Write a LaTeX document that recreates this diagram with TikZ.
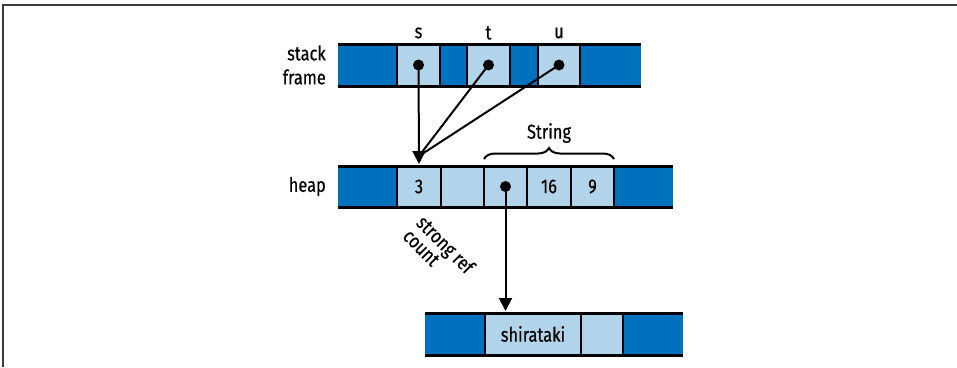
\documentclass[tikz,border=0pt]{standalone}
\usepackage{fontspec}
\setmainfont{Fira Sans}[FakeStretch=0.82,FakeBold=0.4]
\usetikzlibrary{arrows.meta,decorations.pathreplacing}
\definecolor{dkblue}{RGB}{0,113,188}
\definecolor{ltblue}{RGB}{178,212,234}
\definecolor{framegray}{RGB}{60,60,60}
\tikzset{
  cellbox/.style={rectangle, inner sep=0pt, outer sep=0pt, draw=none, minimum height=42pt, anchor=west},
  dk/.style={cellbox, fill=dkblue},
  lt/.style={cellbox, fill=ltblue},
  rowline/.style={line width=3pt, black},
  divline/.style={line width=2pt, black},
  ptr/.style={line width=2pt, black},
  ptrarrow/.style={line width=2pt, black, -{Triangle[length=13pt,width=13pt]}},
  dot/.style={circle, fill=black, inner sep=0pt, minimum size=11pt},
  lbl/.style={font=\fontsize{20}{22}\selectfont, inner sep=0pt},
}
\begin{document}
\begin{tikzpicture}[x=1pt,y=1pt]
\useasboundingbox (0,0) rectangle (957,-367);
% frame
\draw[framegray, line width=1.5pt] (3,-367) -- (3,-5) -- (957,-5);

% stack frame row
\node[dk, minimum width=59pt] (sd1) at (338,-65) {};
\node[lt, minimum width=43pt] (s) at (397,-65) {};
\node[dk, minimum width=27pt] (sd2) at (440,-65) {};
\node[lt, minimum width=43pt] (t) at (467,-65) {};
\node[dk, minimum width=28pt] (sd3) at (510,-65) {};
\node[lt, minimum width=42pt] (u) at (538,-65) {};
\node[dk, minimum width=61pt] (sd4) at (580,-65) {};
\draw[rowline] (sd1.north west) -- (sd4.north east);
\draw[rowline] (sd1.south west) -- (sd4.south east);
\foreach \c in {s,sd2,t,sd3,u,sd4} \draw[divline] (\c.north west) -- (\c.south west);

% heap row
\node[dk, minimum width=59pt, minimum height=41pt] (hd1) at (338,-186.5) {};
\node[lt, minimum width=44pt, minimum height=41pt] (h3) at (397,-186.5) {};
\node[lt, minimum width=43pt, minimum height=41pt] (hb) at (441,-186.5) {};
\node[lt, minimum width=43pt, minimum height=41pt] (hp) at (484,-186.5) {};
\node[lt, minimum width=44pt, minimum height=41pt] (h16) at (527,-186.5) {};
\node[lt, minimum width=43pt, minimum height=41pt] (h9) at (571,-186.5) {};
\node[dk, minimum width=59pt, minimum height=41pt] (hd2) at (614,-186.5) {};
\draw[rowline] (hd1.north west) -- (hd2.north east);
\draw[rowline] (hd1.south west) -- (hd2.south east);
\foreach \c in {h3,hb,hp,h16,h9,hd2} \draw[divline] (\c.north west) -- (\c.south west);

% bottom row
\node[dk, minimum width=60pt] (bd1) at (425,-334) {};
\node[lt, minimum width=96pt] (bs) at (485,-334) {};
\node[lt, minimum width=42pt] (bb) at (581,-334) {};
\node[dk, minimum width=60pt] (bd2) at (623,-334) {};
\draw[rowline] (bd1.north west) -- (bd2.north east);
\draw[rowline] (bd1.south west) -- (bd2.south east);
\foreach \c in {bs,bb,bd2} \draw[divline] (\c.north west) -- (\c.south west);

% cell texts
\node[lbl] (t3) at (h3.center) {3};
\node[lbl] (t16) at (h16.center) {16};
\node[lbl] (t9) at (h9.center) {9};
\node[lbl] (tshir) at (bs.center) {shirataki};

% labels
\node[lbl, align=right, anchor=east, font=\fontsize{20}{24}\selectfont] (lstack) at (326,-65) {stack\\frame};
\node[lbl, anchor=east] (lheap) at (326,-186.5) {heap};
\node[lbl] (ls) at ([yshift=32pt]s.center) {s};
\node[lbl] (lt) at ([yshift=32pt]t.center) {t};
\node[lbl] (lu) at ([yshift=32pt]u.center) {u};
\node[lbl] (lstring) at (549,-133) {String};
\node[lbl, rotate=-45, align=left, font=\fontsize{20}{19}\selectfont] (lsrc) at (439,-251) {strong ref\\count};

% brace
\draw[line width=2pt, decorate, decoration={brace, amplitude=11pt}] ([yshift=7pt]hp.north west) -- ([yshift=7pt]h9.north east);

% pointers
\node[dot] (ds) at (s.center) {};
\node[dot] (dt) at (t.center) {};
\node[dot] (du) at (u.center) {};
\node[dot] (dp) at (hp.center) {};
\coordinate (hit) at ([yshift=2pt]h3.north);
\coordinate (join) at ([yshift=10pt]h3.north);
\draw[ptr] (dt.center) -- (join);
\draw[ptr] (du.center) -- (join);
\draw[ptrarrow] (ds.center) -- (hit);
\draw[ptrarrow] (dp.center) -- ([yshift=2pt]hp.center |- bs.north);
\end{tikzpicture}
\end{document}
